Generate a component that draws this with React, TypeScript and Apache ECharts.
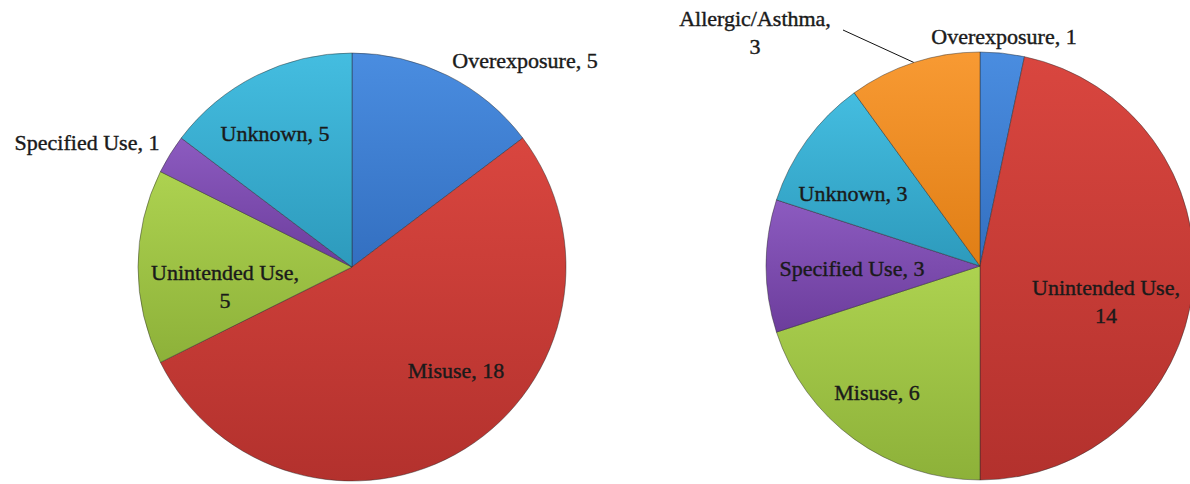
import React, { useEffect, useRef } from "react";
import * as echarts from "echarts";

// ---- data ----
const leftCategories = ["Overexposure", "Misuse", "Unintended Use", "Specified Use", "Unknown"];
const leftValues = [5, 18, 5, 1, 5];

const rightCategories = ["Overexposure", "Unintended Use", "Misuse", "Specified Use", "Unknown", "Allergic/Asthma"];
const rightValues = [1, 14, 6, 3, 3, 3];

const wrappedNames = ["Unintended Use", "Allergic/Asthma"];
const leftOutsideNames = ["Overexposure", "Specified Use"];
const rightOutsideNames = ["Overexposure", "Allergic/Asthma"];
const leaderNames = ["Allergic/Asthma"];

// ---- layout / style ----
const PALETTE: [string, string][] = [
  ["#4A8DE0", "#336FC0"],
  ["#D9463F", "#B3312D"],
  ["#ADD250", "#8DB139"],
  ["#8C5BC0", "#6C3D9C"],
  ["#44BDE0", "#2D9ABC"],
  ["#F89A33", "#E07E15"],
];
const leftLabelAnchors: [number, number][] = [[525, 60], [456, 370], [225, 286], [87, 142], [275, 133]];
const rightLabelAnchors: [number, number][] = [[1004, 36], [1106, 301], [877, 392], [852, 268], [853, 193], [755, 32]];
const leaderEnd: [number, number] = [843, 30];

const FONT = "Liberation Serif";

function buildData(names: string[], values: number[], outside: string[]) {
  return names.map((n, i) => ({
    name: n,
    value: values[i],
    itemStyle: {
      color: new echarts.graphic.LinearGradient(0, 0, 0, 1, [
        { offset: 0, color: PALETTE[i][0] },
        { offset: 1, color: PALETTE[i][1] },
      ]),
    },
    label: { position: outside.includes(n) ? "outside" : "inside" },
    labelLine: { show: leaderNames.includes(n) },
  }));
}

function makeSeries(
  names: string[],
  values: number[],
  outside: string[],
  center: [number, number],
  anchors: [number, number][]
) {
  return {
    type: "pie",
    center,
    radius: 214,
    startAngle: 90,
    clockwise: true,
    avoidLabelOverlap: false,
    silent: true,
    data: buildData(names, values, outside),
    itemStyle: { borderColor: "rgba(40,40,40,0.45)", borderWidth: 1 },
    label: {
      show: true,
      fontFamily: FONT,
      fontSize: 22,
      lineHeight: 28,
      color: "#1a1a1a",
      textBorderColor: "#1a1a1a",
      textBorderWidth: 0.4,
      align: "center",
      formatter: (p: any) =>
        wrappedNames.includes(p.name) ? `${p.name},\n${p.value}` : `${p.name}, ${p.value}`,
    },
    labelLine: { show: false, lineStyle: { color: "#111", width: 1 }, length: 20, length2: 0 },
    labelLayout: (params: any) => {
      const a = anchors[params.dataIndex];
      const res: any = { x: a[0], y: a[1], align: "center", verticalAlign: "middle" };
      const name = names[params.dataIndex];
      if (leaderNames.includes(name) && params.labelLinePoints) {
        const p0 = params.labelLinePoints[0];
        res.labelLinePoints = [p0, leaderEnd, leaderEnd];
      }
      return res;
    },
  };
}

export default function App() {
  const ref = useRef<HTMLDivElement>(null);
  useEffect(() => {
    if (!ref.current) return;
    const chart = echarts.init(ref.current, undefined, { renderer: "svg" });
    chart.setOption({
      animation: false,
      backgroundColor: "#ffffff",
      textStyle: { fontFamily: FONT },
      series: [
        makeSeries(leftCategories, leftValues, leftOutsideNames, [352, 267], leftLabelAnchors),
        makeSeries(rightCategories, rightValues, rightOutsideNames, [980, 266], rightLabelAnchors),
      ],
    });
    return () => chart.dispose();
  }, []);
  return (
    <div
      ref={ref}
      style={{ position: "absolute", left: 0, top: 0, width: 1190, height: 484 }}
    />
  );
}
